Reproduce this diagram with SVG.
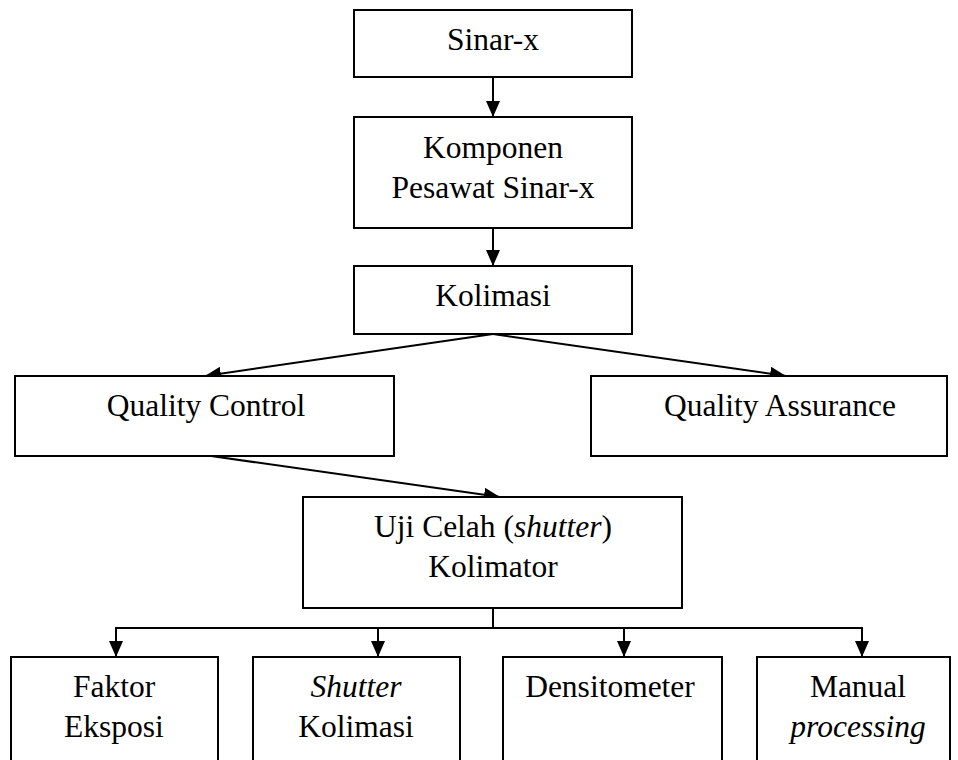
<svg xmlns="http://www.w3.org/2000/svg" width="958" height="760" viewBox="0 0 958 760">
  <defs>
    <marker id="arrow" viewBox="0 0 16 14" refX="16" refY="7" markerWidth="16" markerHeight="14" markerUnits="userSpaceOnUse" orient="auto">
      <path d="M0,0 L16,7 L0,14 Z" fill="#000"/>
    </marker>
    <style>
      .box { fill: #fff; stroke: #000; stroke-width: 2; }
      .lbl { font-family: 'Liberation Serif', 'DejaVu Serif', serif; font-size: 31.5px; fill: #000; text-anchor: middle; }
      .it { font-style: italic; }
      .link { fill: none; stroke: #000; stroke-width: 2; }
    </style>
  </defs>
  <rect width="958" height="760" fill="#fff"/>

  <!-- connectors -->
  <g id="connectors">
    <line class="link" x1="493" y1="77" x2="493" y2="117" marker-end="url(#arrow)"/>
    <line class="link" x1="493" y1="228" x2="493" y2="266" marker-end="url(#arrow)"/>
    <line class="link" x1="493" y1="334" x2="205" y2="376" marker-end="url(#arrow)"/>
    <line class="link" x1="493" y1="334" x2="786" y2="376" marker-end="url(#arrow)"/>
    <line class="link" x1="211" y1="456" x2="500" y2="497" marker-end="url(#arrow)"/>
    <polyline class="link" points="493,608 493,628"/>
    <polyline class="link" points="116,628 862,628"/>
    <line class="link" x1="116" y1="627" x2="116" y2="657" marker-end="url(#arrow)"/>
    <line class="link" x1="378" y1="628" x2="378" y2="657" marker-end="url(#arrow)"/>
    <line class="link" x1="624" y1="628" x2="624" y2="657" marker-end="url(#arrow)"/>
    <line class="link" x1="862" y1="627" x2="862" y2="657" marker-end="url(#arrow)"/>
  </g>

  <g id="sinar-x">
    <rect class="box" x="354" y="10" width="278" height="67"/>
    <text class="lbl" x="493" y="50" font-family="Liberation Serif, serif">Sinar-x</text>
  </g>

  <g id="komponen">
    <rect class="box" x="354" y="117" width="278" height="111"/>
    <text class="lbl" x="493" y="158">Komponen</text>
    <text class="lbl" x="493" y="198">Pesawat Sinar-x</text>
  </g>

  <g id="kolimasi">
    <rect class="box" x="354" y="266" width="278" height="68"/>
    <text class="lbl" x="493" y="306">Kolimasi</text>
  </g>

  <g id="quality-control">
    <rect class="box" x="15" y="376" width="379" height="80"/>
    <text class="lbl" x="206" y="416">Quality Control</text>
  </g>

  <g id="quality-assurance">
    <rect class="box" x="591" y="376" width="356" height="80"/>
    <text class="lbl" x="780" y="416">Quality Assurance</text>
  </g>

  <g id="uji-celah">
    <rect class="box" x="303" y="497" width="379" height="111"/>
    <text class="lbl" x="493" y="537">Uji Celah (<tspan class="it">shutter</tspan>)</text>
    <text class="lbl" x="493" y="577">Kolimator</text>
  </g>

  <g id="faktor-eksposi">
    <rect class="box" x="11" y="657" width="207" height="115"/>
    <text class="lbl" x="114" y="697">Faktor</text>
    <text class="lbl" x="114" y="737">Eksposi</text>
  </g>

  <g id="shutter-kolimasi">
    <rect class="box" x="253" y="657" width="207" height="115"/>
    <text class="lbl it" x="356" y="697">Shutter</text>
    <text class="lbl" x="356" y="737">Kolimasi</text>
  </g>

  <g id="densitometer">
    <rect class="box" x="503" y="657" width="219" height="115"/>
    <text class="lbl" x="610" y="697">Densitometer</text>
  </g>

  <g id="manual-processing">
    <rect class="box" x="757" y="657" width="193" height="115"/>
    <text class="lbl" x="858" y="697">Manual</text>
    <text class="lbl it" x="858" y="737">processing</text>
  </g>
</svg>
